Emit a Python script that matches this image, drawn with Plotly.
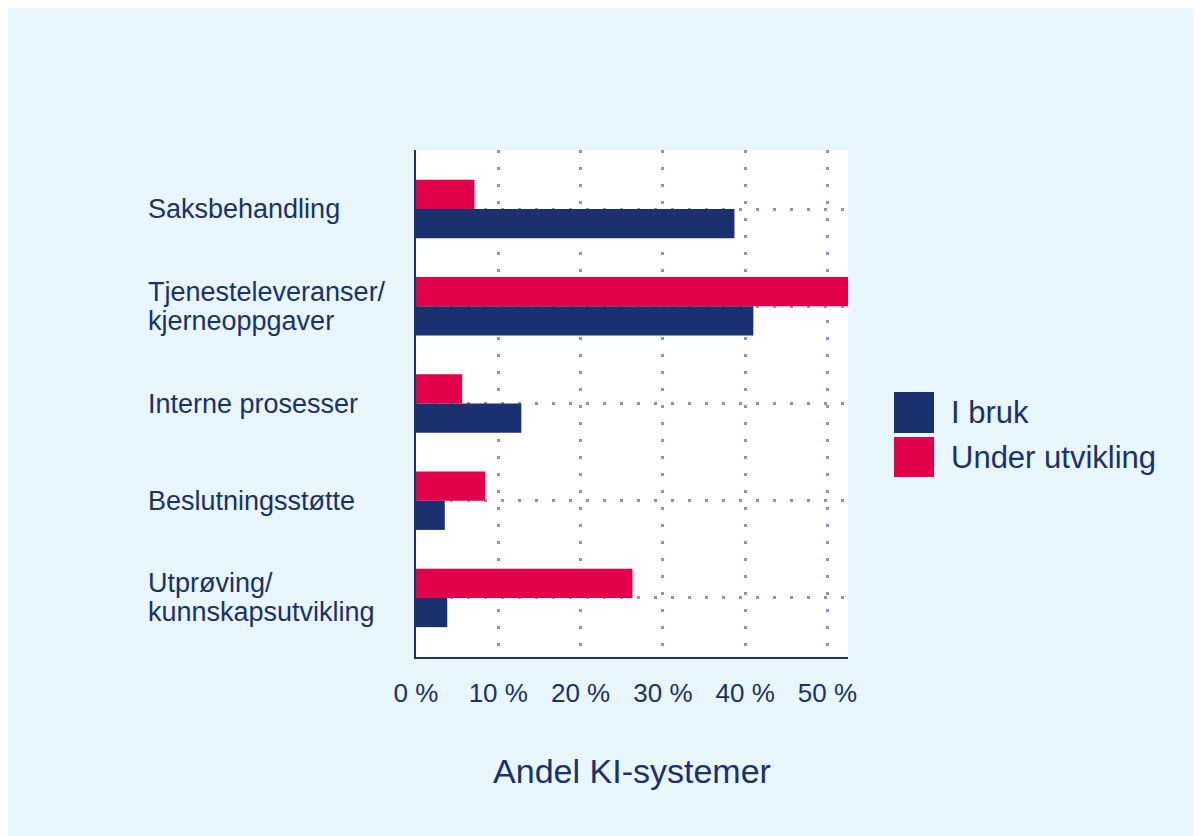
import plotly.graph_objects as go

# Data (share of AI systems, %)
categories = [
    "Saksbehandling",
    "Tjenesteleveranser/<br>kjerneoppgaver",
    "Interne prosesser",
    "Beslutningsstøtte",
    "Utprøving/<br>kunnskapsutvikling",
]
i_bruk = [38.7, 41.0, 12.8, 3.5, 3.8]
under_utvikling = [7.1, 52.6, 5.6, 8.4, 26.3]
x_ticks = [0, 10, 20, 30, 40, 50]
x_ticktext = ["0 %", "10 %", "20 %", "30 %", "40 %", "50 %"]

NAVY = "#1b306e"
RED = "#e10049"
BG = "#e8f6fd"
GRID = "#8c94b7"
FONT = "Liberation Sans, Arial, sans-serif"

W, H = 1195, 830
L, R, T, B = 408, 840, 142, 649  # plot area in figure pixels


def px_x(x):
    return (x - L) / (R - L)


def px_y(y):
    return (B - y) / (B - T)


fig = go.Figure()
fig.add_trace(go.Bar(
    y=categories, x=i_bruk, name="I bruk", orientation="h",
    marker=dict(color=NAVY, line=dict(width=0)),
))
fig.add_trace(go.Bar(
    y=categories, x=under_utvikling, name="Under utvikling", orientation="h",
    marker=dict(color=RED, line=dict(width=0)),
))

# category labels, left aligned, tight line spacing
LINE = 29
for c in categories:
    lines = c.split("<br>")
    n = len(lines)
    for k, txt in enumerate(lines):
        fig.add_annotation(
            x=px_x(138), xref="paper", xanchor="left",
            y=c, yref="y", yanchor="middle",
            yshift=((n - 1) / 2 - k) * LINE,
            text=txt, showarrow=False, align="left",
            font=dict(size=27, color=NAVY, family=FONT),
        )

# legend drawn manually (large swatches)
legend_items = [("I bruk", NAVY, 384, 425), ("Under utvikling", RED, 429, 469)]
for name, col, y0, y1 in legend_items:
    fig.add_shape(type="rect", xref="paper", yref="paper",
                  x0=px_x(886), x1=px_x(926), y0=px_y(y1), y1=px_y(y0),
                  fillcolor=col, line=dict(width=0))
    fig.add_annotation(x=px_x(941), xref="paper", xanchor="left",
                       y=px_y((y0 + y1) / 2), yref="paper", yanchor="middle",
                       text=name, showarrow=False,
                       font=dict(size=31, color=NAVY, family=FONT))

fig.update_layout(
    width=W, height=H,
    margin=dict(l=L, r=W - R, t=T, b=H - B, pad=0),
    paper_bgcolor=BG, plot_bgcolor="white",
    barmode="group", bargap=0.4, bargroupgap=0,
    showlegend=False,
    font=dict(family=FONT, color=NAVY, size=24),
)
fig.update_xaxes(
    range=[0, 52.5], tickmode="array", tickvals=x_ticks, ticktext=x_ticktext,
    showgrid=True, gridcolor=GRID, gridwidth=3, griddash="3px,14px",
    zeroline=False, showline=True, linecolor=NAVY, linewidth=2,
    ticks="outside", ticklen=12, tickcolor="rgba(0,0,0,0)",
    tickfont=dict(size=26, color=NAVY),
    title=dict(text="Andel KI-systemer", font=dict(size=34, color=NAVY), standoff=52),
)
fig.update_yaxes(
    categoryorder="array", categoryarray=categories[::-1],
    range=[-0.607, 4.607], showticklabels=False,
    showgrid=True, gridcolor=GRID, gridwidth=3, griddash="3px,14px",
    zeroline=False, showline=True, linecolor=NAVY, linewidth=2, ticks="",
)

fig.write_html("out.html")
